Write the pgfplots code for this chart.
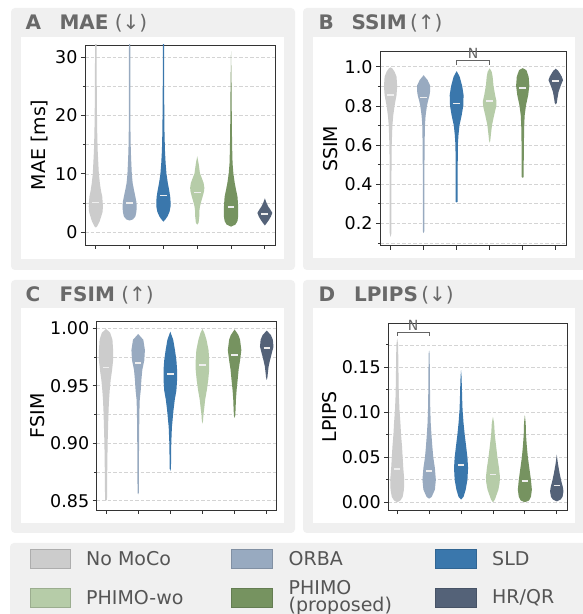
\documentclass[border=0pt]{standalone}
\usepackage{fontspec}
\setmainfont{DejaVu Sans}
\usepackage{pgfplots}
\pgfplotsset{compat=1.18}

\definecolor{cNo}{RGB}{204,204,204}
\definecolor{cOR}{RGB}{152,170,192}
\definecolor{cSL}{RGB}{58,119,172}
\definecolor{cPW}{RGB}{182,204,168}
\definecolor{cPH}{RGB}{118,147,96}
\definecolor{cHR}{RGB}{84,98,120}
\definecolor{panelbg}{RGB}{240,240,240}
\definecolor{titlegray}{RGB}{105,105,105}
\definecolor{legtext}{RGB}{85,85,85}
\definecolor{gridc}{RGB}{212,212,212}
\definecolor{medc}{RGB}{238,238,238}
\definecolor{brc}{RGB}{100,100,100}

\newcommand\tickfont{\fontsize{17.5}{20}\selectfont}
\newcommand\labfont{\fontsize{19}{22}\selectfont}
\newcommand\titfont{\fontsize{20}{23}\selectfont}
\newcommand\legfont{\fontsize{19}{17}\selectfont}
\newcommand\nfont{\fontsize{14}{16}\selectfont}

% violin: #1 position, #2 colour, #3 median, #4 list of value/half-width
\newcommand{\violin}[4]{%
  \gdef\myvR{}\gdef\myvL{}%
  \foreach \yy/\ww in {#4}{%
    \pgfmathsetmacro\xr{#1+\ww}%
    \pgfmathsetmacro\xl{#1-\ww}%
    \xdef\myvR{\myvR(\xr,\yy) }%
    \xdef\myvL{(\xl,\yy) \myvL}%
  }%
  \pgfmathsetmacro\ma{#1-0.1}\pgfmathsetmacro\mb{#1+0.1}%
  \edef\tmp{\noexpand\addplot[fill=#2,draw=none,forget plot] coordinates {\myvR\myvL};
    \noexpand\addplot[draw=medc,line width=1.6pt,forget plot] coordinates {(\ma,#3) (\mb,#3)};}%
  \tmp}

\pgfplotsset{
 vio/.style={
  scale only axis, anchor=south west,
  xtick={0,1,2,3,4,5}, xticklabels={},
  tick align=outside, tick pos=left,
  axis line style={draw=black!80, line width=0.8pt},
  major tick length=4pt, minor tick length=2.2pt,
  tick style={black!80, line width=0.8pt},
  ymajorgrids, yminorgrids,
  major grid style={gridc, dash pattern=on 3.5pt off 2pt, line width=0.7pt},
  minor grid style={gridc, dash pattern=on 3.5pt off 2pt, line width=0.7pt},
  clip mode=individual,
  yticklabel style={font=\tickfont},
  ylabel style={font=\labfont, anchor=center},
  /pgf/number format/assume math mode=true,
 }}

\begin{document}
\begin{tikzpicture}[x=1pt,y=1pt]
\useasboundingbox (0,0) rectangle (582,614);
\fill[white] (0,0) rectangle (582,614);
% panels
\fill[panelbg, rounded corners=4pt] (11,344) rectangle (295,606);
\fill[panelbg, rounded corners=4pt] (303,344) rectangle (592,606);
\fill[panelbg, rounded corners=4pt] (11,81) rectangle (295,334);
\fill[panelbg, rounded corners=4pt] (303,81) rectangle (592,334);
\fill[panelbg, rounded corners=4pt] (10,-12) rectangle (592,71);
\fill[white] (21,355) rectangle (284,577);
\fill[white] (312.7,355.7) rectangle (575,577.3);
\fill[white] (21,91.3) rectangle (284,306);
\fill[white] (312.7,91.3) rectangle (575,305.7);

% ---------------- A: MAE
\begin{axis}[vio, at={(85pt,369pt)}, width=190pt, height=200pt,
  xmin=-0.32, xmax=5.3, ymin=-2.2, ymax=32.1,
  ytick={0,10,20,30}, yticklabels={0,10,20,30}, minor ytick={5,15,25},
  ylabel={MAE [ms]}, ylabel style={at={(axis description cs:-0.237,0.5)}}]
\violin{0}{cNo}{5.1}{0.8/0, 1.0/0.04, 1.8/0.11, 2.7/0.16, 3.5/0.2, 4.4/0.21, 5.3/0.2, 6.1/0.19, 7.2/0.15, 8.4/0.12, 10/0.09, 11.8/0.074, 14/0.055, 17.5/0.04, 22/0.03, 28/0.025, 34/0.02}
\violin{1}{cOR}{5.0}{2.0/0, 2.2/0.1, 2.7/0.17, 3.5/0.2, 4.4/0.21, 5.2/0.2, 6.1/0.17, 7.2/0.13, 8.4/0.09, 10/0.065, 11.8/0.05, 14/0.035, 17.5/0.025, 25/0.02, 34/0.018}
\violin{2}{cSL}{6.3}{1.8/0, 2.2/0.06, 2.7/0.12, 3.5/0.18, 4.4/0.21, 5.3/0.21, 6.1/0.2, 7.2/0.17, 8.4/0.13, 10/0.09, 11.8/0.065, 14/0.045, 17.5/0.03, 25/0.02, 34/0.018}
\violin{3}{cPW}{6.8}{1.3/0, 1.6/0.04, 2.7/0.06, 3.5/0.06, 4.4/0.08, 5.3/0.12, 6.1/0.16, 7/0.2, 7.6/0.21, 8.4/0.19, 9.2/0.14, 10.1/0.08, 11/0.06, 11.8/0.04, 13/0}
\violin{4}{cPH}{4.3}{0.95/0, 1.3/0.13, 1.9/0.19, 2.7/0.21, 3.5/0.21, 4.4/0.21, 5.3/0.2, 6.1/0.19, 7.2/0.15, 8.4/0.11, 10/0.07, 11.8/0.045, 14/0.035, 17.5/0.025, 25/0.015, 31/0}
\violin{5}{cHR}{3.1}{1.15/0, 1.6/0.06, 2.1/0.12, 2.7/0.18, 3.3/0.22, 3.9/0.16, 4.4/0.1, 5/0.05, 5.8/0}
\end{axis}

% ---------------- B: SSIM
\begin{axis}[vio, at={(380pt,368.3pt)}, width=186pt, height=194pt,
  xmin=-0.32, xmax=5.31, ymin=0.086, ymax=1.077,
  ytick={0.2,0.4,0.6,0.8,1.0}, yticklabels={0.2,0.4,0.6,0.8,1.0}, minor ytick={0.1,0.3,0.5,0.7,0.9},
  ylabel={SSIM}, ylabel style={at={(axis description cs:-0.266,0.5)}}]
\violin{0}{cNo}{0.855}{0.13/0, 0.15/0.025, 0.3/0.025, 0.45/0.027, 0.6/0.035, 0.65/0.045, 0.7/0.055, 0.75/0.08, 0.8/0.12, 0.855/0.18, 0.9/0.2, 0.95/0.18, 0.975/0.12, 0.992/0.05, 0.997/0}
\violin{1}{cOR}{0.844}{0.15/0, 0.16/0.022, 0.3/0.022, 0.45/0.024, 0.6/0.03, 0.7/0.04, 0.75/0.06, 0.8/0.1, 0.83/0.14, 0.855/0.18, 0.88/0.2, 0.903/0.2, 0.932/0.12, 0.957/0}
\violin{2}{cSL}{0.813}{0.307/0, 0.31/0.03, 0.45/0.032, 0.55/0.034, 0.6/0.036, 0.65/0.055, 0.7/0.085, 0.75/0.15, 0.8/0.2, 0.855/0.21, 0.9/0.17, 0.95/0.09, 0.978/0}
\violin{3}{cPW}{0.826}{0.612/0, 0.625/0.02, 0.651/0.035, 0.702/0.07, 0.753/0.135, 0.8/0.2, 0.825/0.205, 0.855/0.165, 0.903/0.115, 0.949/0.09, 0.975/0.06, 0.992/0}
\violin{4}{cPH}{0.893}{0.433/0, 0.437/0.03, 0.5/0.03, 0.6/0.035, 0.7/0.045, 0.753/0.06, 0.804/0.1, 0.855/0.165, 0.903/0.2, 0.949/0.18, 0.983/0.11, 0.993/0}
\violin{5}{cHR}{0.927}{0.808/0, 0.815/0.03, 0.838/0.05, 0.872/0.085, 0.903/0.15, 0.932/0.22, 0.95/0.18, 0.966/0.125, 0.98/0.07, 0.99/0}
\addplot[draw=brc, line width=1pt, forget plot] coordinates {(2,1.009) (2,1.034) (3,1.034) (3,1.009)};
\node[anchor=base, text=brc, font=\nfont, yshift=2pt] at (axis cs:2.5,1.034) {N};
\end{axis}

% ---------------- C: FSIM
\begin{axis}[vio, at={(96.7pt,104pt)}, width=180pt, height=188.3pt,
  xmin=-0.29, xmax=5.31, ymin=0.8419, ymax=1.0057,
  ytick={0.85,0.9,0.95,1.0}, yticklabels={0.85,0.90,0.95,1.00}, minor ytick={0.875,0.925,0.975},
  ylabel={FSIM}, ylabel style={at={(axis description cs:-0.33,0.5)}}]
\violin{0}{cNo}{0.9657}{0.85/0, 0.851/0.03, 0.87/0.035, 0.9/0.05, 0.92/0.07, 0.929/0.08, 0.938/0.095, 0.946/0.115, 0.955/0.145, 0.964/0.19, 0.972/0.22, 0.981/0.22, 0.99/0.2, 0.996/0.13, 0.9995/0}
\violin{1}{cOR}{0.970}{0.8555/0, 0.857/0.02, 0.88/0.022, 0.9/0.028, 0.92/0.035, 0.929/0.04, 0.938/0.05, 0.946/0.08, 0.955/0.1, 0.964/0.13, 0.972/0.19, 0.981/0.21, 0.99/0.16, 0.995/0}
\violin{2}{cSL}{0.960}{0.876/0, 0.878/0.02, 0.89/0.025, 0.9/0.03, 0.914/0.05, 0.929/0.1, 0.938/0.14, 0.946/0.19, 0.955/0.21, 0.964/0.21, 0.972/0.19, 0.981/0.145, 0.99/0.09, 0.997/0}
\violin{3}{cPW}{0.968}{0.917/0, 0.92/0.02, 0.925/0.03, 0.929/0.05, 0.938/0.085, 0.946/0.135, 0.955/0.18, 0.964/0.21, 0.972/0.21, 0.981/0.19, 0.99/0.125, 0.996/0.06, 0.9993/0}
\violin{4}{cPH}{0.9765}{0.922/0, 0.924/0.02, 0.929/0.03, 0.938/0.042, 0.946/0.062, 0.955/0.095, 0.964/0.125, 0.972/0.17, 0.981/0.21, 0.99/0.17, 0.994/0.12, 0.999/0}
\violin{5}{cHR}{0.983}{0.955/0, 0.957/0.02, 0.961/0.035, 0.9666/0.057, 0.972/0.1, 0.978/0.155, 0.984/0.21, 0.99/0.19, 0.994/0.13, 0.998/0}
\end{axis}

% ---------------- D: LPIPS
\begin{axis}[vio, at={(388.3pt,104pt)}, width=179pt, height=186.7pt,
  xmin=-0.28, xmax=5.33, ymin=-0.0086, ymax=0.199,
  ytick={0,0.05,0.1,0.15}, yticklabels={0.00,0.05,0.10,0.15}, minor ytick={0.025,0.075,0.125,0.175},
  ylabel={LPIPS}, ylabel style={at={(axis description cs:-0.326,0.5)}}]
\violin{0}{cNo}{0.0367}{0/0, 0.002/0.1, 0.006/0.17, 0.014/0.21, 0.025/0.22, 0.038/0.19, 0.05/0.17, 0.062/0.15, 0.075/0.12, 0.088/0.1, 0.103/0.07, 0.12/0.05, 0.15/0.037, 0.175/0.028, 0.182/0}
\violin{1}{cOR}{0.0348}{0.004/0, 0.006/0.08, 0.014/0.18, 0.025/0.21, 0.038/0.18, 0.05/0.13, 0.062/0.1, 0.075/0.073, 0.088/0.05, 0.103/0.036, 0.12/0.028, 0.145/0.022, 0.165/0.015, 0.169/0}
\violin{2}{cSL}{0.0414}{0.003/0, 0.006/0.078, 0.014/0.145, 0.025/0.2, 0.038/0.22, 0.05/0.2, 0.062/0.16, 0.075/0.115, 0.088/0.078, 0.103/0.047, 0.115/0.035, 0.128/0.026, 0.14/0.015, 0.147/0}
\violin{3}{cPW}{0.031}{0/0, 0.003/0.06, 0.006/0.09, 0.014/0.17, 0.022/0.21, 0.028/0.22, 0.038/0.19, 0.05/0.14, 0.062/0.1, 0.075/0.057, 0.088/0.036, 0.095/0}
\violin{4}{cPH}{0.0237}{0/0, 0.002/0.13, 0.006/0.19, 0.014/0.22, 0.025/0.19, 0.038/0.14, 0.05/0.094, 0.062/0.062, 0.075/0.036, 0.088/0.026, 0.097/0}
\violin{5}{cHR}{0.0185}{0.001/0, 0.003/0.12, 0.006/0.18, 0.012/0.21, 0.017/0.19, 0.023/0.145, 0.032/0.09, 0.043/0.036, 0.053/0}
\addplot[draw=brc, line width=1pt, forget plot] coordinates {(0,0.185) (0,0.189) (1,0.189) (1,0.185)};
\node[anchor=base, text=brc, font=\nfont, yshift=2pt] at (axis cs:0.5,0.189) {N};
\end{axis}

% titles
\node[anchor=base west, text=titlegray, font=\titfont\bfseries] at (22,584.7) {A};
\node[anchor=base west, text=titlegray, font=\titfont] at (56,584.7) {\textbf{MAE} (↓)};
\node[anchor=base west, text=titlegray, font=\titfont\bfseries] at (315,584.7) {B};
\node[anchor=base west, text=titlegray, font=\titfont] at (348,584.7) {\textbf{SSIM}\,(↑)};
\node[anchor=base west, text=titlegray, font=\titfont\bfseries] at (22,312.3) {C};
\node[anchor=base west, text=titlegray, font=\titfont] at (56,312.3) {\textbf{FSIM} (↑)};
\node[anchor=base west, text=titlegray, font=\titfont\bfseries] at (315,312.3) {D};
\node[anchor=base west, text=titlegray, font=\titfont] at (350.5,312.3) {\textbf{LPIPS}\,(↓)};

% legend
\filldraw[fill=cNo, draw=cNo!85!black, line width=0.5pt] (30,46) rectangle (70.5,65);
\filldraw[fill=cOR, draw=cOR!85!black, line width=0.5pt] (231,46) rectangle (272,65);
\filldraw[fill=cSL, draw=cSL!85!black, line width=0.5pt] (435,46) rectangle (476,65);
\filldraw[fill=cPW, draw=cPW!85!black, line width=0.5pt] (30,7) rectangle (70.5,26);
\filldraw[fill=cPH, draw=cPH!85!black, line width=0.5pt] (231,7) rectangle (272,26);
\filldraw[fill=cHR, draw=cHR!85!black, line width=0.5pt] (435,7) rectangle (476,26);
\node[anchor=west, text=legtext, font=\legfont, inner sep=0pt] at (86,55.5) {No MoCo};
\node[anchor=west, text=legtext, font=\legfont, inner sep=0pt] at (288.5,55.5) {ORBA};
\node[anchor=west, text=legtext, font=\legfont, inner sep=0pt] at (492,55.5) {SLD};
\node[anchor=west, text=legtext, font=\legfont, inner sep=0pt] at (86,16.5) {PHIMO-wo};
\node[anchor=west, text=legtext, font=\legfont, inner sep=0pt, align=left] at (288.5,16.5) {PHIMO\\(proposed)};
\node[anchor=west, text=legtext, font=\legfont, inner sep=0pt] at (492,16.5) {HR/QR};
\end{tikzpicture}
\end{document}
